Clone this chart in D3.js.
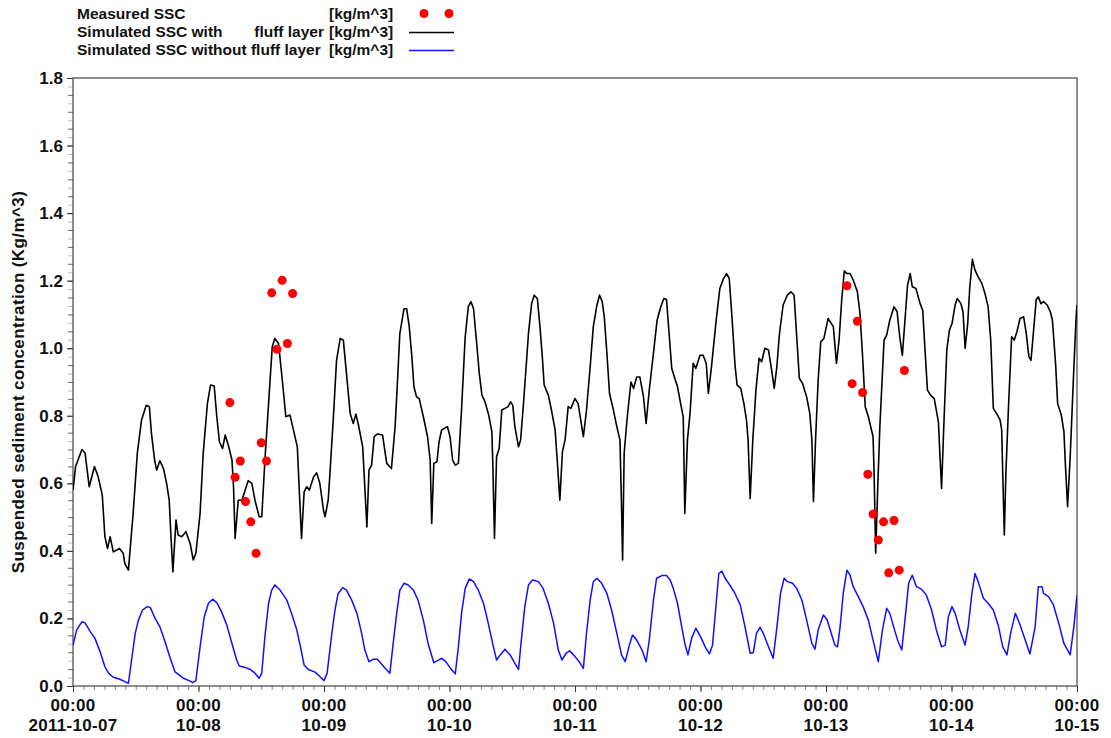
<!DOCTYPE html>
<html><head><meta charset="utf-8">
<script src="https://cdn.jsdelivr.net/npm/d3@7/dist/d3.min.js"></script>
<style>
html,body{margin:0;padding:0;background:#fff;}
svg{display:block;font-family:"Liberation Sans",Arial,sans-serif;font-weight:bold;}
</style></head>
<body><svg id="chart" width="1111" height="738"></svg>
<script>
// ---- data (hours since 2011-10-07 00:00, value in kg/m^3) ----
const startDate = new Date(2011, 9, 7, 0, 0);
const endDate = new Date(2011, 9, 15, 0, 0);
const yTicks = [0.0, 0.2, 0.4, 0.6, 0.8, 1.0, 1.2, 1.4, 1.6, 1.8];
const xTickTimes = ["00:00","00:00","00:00","00:00","00:00","00:00","00:00","00:00","00:00"];
const xTickDates = ["2011-10-07","10-08","10-09","10-10","10-11","10-12","10-13","10-14","10-15"];
const legendLabels = ["Measured SSC", "Simulated SSC with", "Simulated SSC without fluff layer"];
const legendUnit = "[kg/m^3]";
const yTitle = "Suspended sediment concentration (Kg/m^3)";

const measuredHours = [30,31,32,33,34,35,36,37,38,39,40,41,42,
  148,149,150,151,152,153,154,155,156,157,158,159];
const measuredValues = [0.839,0.618,0.666,0.546,0.486,0.393,0.72,0.666,1.164,0.997,1.201,1.014,1.162,
  1.185,0.895,1.08,0.869,0.627,0.509,0.432,0.486,0.335,0.49,0.343,0.934];

const simWithFluff = [[0,0.58],[0.5,0.65],[1.7,0.70],[2.3,0.69],[3.1,0.59],[4.1,0.65],[4.8,0.62],[5.6,0.565],[6.1,0.442],[6.6,0.407],[7.1,0.442],[7.7,0.397],[8.9,0.407],[9.6,0.393],[9.9,0.363],[10.6,0.343],[11.5,0.511],[12.3,0.689],[13.1,0.787],[14.0,0.831],[14.6,0.827],[15.0,0.748],[15.6,0.669],[16.0,0.639],[16.6,0.667],[17.3,0.644],[17.9,0.60],[18.4,0.55],[18.7,0.452],[19.1,0.338],[19.7,0.491],[20.1,0.447],[20.8,0.442],[21.6,0.457],[22.4,0.422],[23.0,0.373],[23.5,0.393],[24.3,0.511],[24.9,0.689],[25.7,0.836],[26.3,0.891],[27.0,0.888],[27.5,0.797],[28.0,0.723],[28.6,0.703],[29.1,0.743],[29.7,0.713],[30.4,0.669],[30.7,0.59],[31.0,0.437],[31.6,0.55],[32.3,0.55],[33.5,0.608],[34.2,0.60],[34.8,0.55],[35.6,0.501],[36.1,0.501],[36.7,0.669],[37.4,0.836],[38.1,1.004],[38.6,1.029],[39.3,1.014],[39.9,0.925],[40.4,0.846],[40.7,0.797],[41.5,0.802],[42.1,0.762],[42.9,0.708],[43.3,0.57],[43.7,0.437],[44.2,0.575],[44.7,0.59],[45.2,0.58],[46.0,0.619],[46.6,0.631],[47.2,0.60],[47.9,0.521],[48.2,0.501],[48.8,0.55],[49.1,0.62],[49.8,0.797],[50.4,0.964],[51.1,1.029],[51.7,1.024],[52.3,0.925],[53.0,0.807],[53.6,0.777],[54.1,0.805],[54.6,0.772],[55.4,0.708],[55.7,0.619],[56.2,0.471],[56.6,0.639],[57.1,0.654],[57.6,0.738],[58.2,0.746],[59.2,0.743],[60.0,0.659],[60.9,0.644],[61.6,0.768],[62.0,0.886],[62.5,1.043],[63.3,1.117],[63.8,1.117],[64.3,1.064],[64.8,0.975],[65.2,0.886],[65.7,0.856],[66.2,0.851],[67.0,0.797],[67.8,0.738],[68.3,0.669],[68.6,0.481],[69.0,0.659],[69.6,0.664],[70.0,0.723],[70.5,0.758],[71.6,0.768],[72.1,0.738],[72.6,0.669],[73.1,0.654],[73.7,0.659],[74.3,0.817],[75.0,1.034],[75.6,1.123],[76.1,1.138],[76.6,1.117],[77.2,1.014],[77.7,0.925],[78.2,0.861],[78.8,0.841],[79.5,0.802],[80.1,0.753],[80.3,0.649],[80.6,0.437],[81.0,0.679],[81.5,0.703],[82.0,0.817],[82.6,0.822],[83.2,0.827],[83.7,0.841],[84.1,0.831],[84.5,0.768],[85.2,0.708],[85.6,0.728],[86.2,0.846],[87.1,1.043],[87.7,1.132],[88.2,1.157],[88.8,1.147],[89.3,1.064],[89.8,0.964],[90.1,0.891],[90.9,0.861],[91.5,0.817],[92.2,0.758],[92.6,0.669],[93.1,0.55],[93.6,0.694],[94.1,0.728],[94.7,0.827],[95.2,0.822],[96.0,0.851],[96.6,0.836],[97.6,0.738],[98.2,0.817],[98.9,0.945],[99.5,1.064],[100.2,1.128],[100.7,1.157],[101.2,1.138],[101.6,1.093],[102.1,0.985],[102.6,0.866],[103.2,0.827],[104.0,0.768],[104.6,0.728],[104.9,0.531],[105.1,0.373],[105.4,0.689],[106.0,0.797],[106.7,0.90],[107.2,0.881],[107.8,0.915],[108.4,0.915],[109.1,0.856],[109.6,0.777],[110.2,0.876],[111.0,0.985],[111.7,1.083],[112.4,1.123],[113.0,1.147],[113.5,1.144],[114.0,1.043],[114.5,0.94],[114.9,0.92],[115.6,0.886],[116.2,0.836],[116.7,0.797],[117.0,0.511],[117.5,0.728],[118.0,0.807],[118.6,0.955],[119.1,0.94],[119.9,0.979],[120.5,0.979],[121.1,0.955],[121.5,0.866],[122.1,0.945],[123.0,1.083],[123.7,1.177],[124.4,1.206],[125.0,1.221],[125.5,1.206],[126.1,1.073],[126.6,0.95],[127.0,0.891],[127.7,0.881],[128.3,0.836],[128.8,0.787],[129.1,0.728],[129.5,0.555],[130.0,0.728],[130.6,0.876],[131.2,0.97],[131.7,0.96],[132.3,1.0],[133.0,0.995],[133.6,0.935],[134.1,0.881],[134.6,0.945],[135.1,1.043],[135.8,1.128],[136.6,1.157],[137.3,1.167],[137.9,1.157],[138.4,1.034],[138.9,0.911],[139.5,0.896],[140.3,0.856],[140.9,0.807],[141.3,0.728],[141.6,0.546],[142.0,0.728],[142.5,0.905],[143.0,1.019],[143.6,1.029],[144.4,1.088],[145.4,1.064],[146.0,0.955],[146.5,1.024],[147.0,1.142],[147.5,1.229],[148.0,1.221],[148.6,1.221],[149.2,1.202],[150.0,1.167],[150.5,1.103],[151.0,0.975],[151.5,0.827],[152.1,0.797],[152.7,0.758],[153.0,0.738],[153.2,0.629],[153.5,0.393],[153.9,0.59],[154.3,0.768],[155.1,1.024],[155.6,1.039],[156.2,1.083],[157.0,1.123],[157.6,1.108],[158.1,1.034],[158.6,0.979],[159.1,1.083],[159.6,1.187],[160.1,1.221],[160.5,1.182],[161.2,1.177],[162.0,1.132],[162.5,1.112],[162.9,1.004],[163.4,0.876],[164.0,0.861],[164.7,0.851],[165.5,0.782],[165.8,0.679],[166.1,0.585],[166.5,0.758],[167.1,0.995],[167.6,1.053],[168.1,1.073],[168.7,1.128],[169.1,1.147],[169.8,1.132],[170.2,1.108],[170.6,1.0],[171.1,1.073],[171.5,1.182],[172.0,1.263],[172.5,1.231],[173.1,1.211],[173.8,1.192],[174.4,1.162],[175.0,1.123],[175.5,1.024],[176.0,0.822],[176.8,0.802],[177.3,0.787],[177.6,0.758],[177.8,0.629],[178.1,0.447],[178.4,0.629],[178.9,0.827],[179.5,1.034],[180.0,1.024],[180.5,1.048],[181.1,1.088],[181.8,1.093],[182.3,1.043],[182.8,0.975],[183.2,0.964],[183.7,1.053],[184.2,1.144],[184.6,1.152],[185.1,1.132],[185.6,1.138],[186.3,1.128],[186.9,1.108],[187.3,1.083],[187.9,0.955],[188.3,0.836],[189.0,0.802],[189.5,0.753],[189.8,0.649],[190.2,0.531],[190.7,0.679],[191.3,0.905],[191.8,1.083],[192,1.128]];

const simWithoutFluff = [[0,0.121],[0.7,0.166],[1.7,0.19],[2.3,0.187],[3.3,0.161],[4.2,0.141],[5.2,0.101],[6.1,0.057],[6.8,0.038],[7.7,0.026],[9.0,0.02],[9.9,0.013],[10.6,0.008],[11.2,0.077],[11.9,0.156],[12.5,0.195],[13.3,0.225],[14.2,0.235],[14.8,0.232],[15.7,0.20],[16.6,0.176],[17.6,0.131],[18.6,0.082],[19.5,0.042],[20.3,0.033],[21.1,0.023],[22.2,0.016],[22.9,0.01],[23.5,0.016],[24.3,0.116],[25.1,0.205],[25.9,0.245],[26.7,0.257],[27.5,0.247],[28.4,0.22],[29.4,0.181],[30.4,0.126],[31.3,0.077],[31.8,0.059],[32.9,0.055],[33.9,0.049],[34.8,0.038],[35.6,0.023],[36.1,0.038],[36.7,0.146],[37.4,0.245],[38.0,0.284],[38.6,0.299],[39.6,0.284],[40.9,0.254],[41.8,0.215],[42.8,0.166],[43.5,0.116],[44.2,0.062],[45.0,0.049],[46.3,0.041],[47.2,0.028],[48.0,0.016],[48.6,0.038],[49.5,0.156],[50.1,0.225],[50.7,0.274],[51.6,0.291],[52.3,0.284],[53.3,0.254],[54.3,0.215],[55.2,0.156],[55.8,0.107],[56.6,0.072],[57.4,0.079],[58.2,0.079],[59.0,0.065],[59.9,0.049],[60.6,0.038],[61.3,0.136],[61.9,0.215],[62.5,0.284],[63.3,0.304],[64.1,0.299],[65.1,0.284],[66.0,0.254],[67.0,0.195],[67.9,0.126],[69.0,0.069],[69.7,0.075],[70.5,0.082],[71.3,0.072],[72.2,0.052],[73.1,0.036],[73.7,0.116],[74.3,0.215],[75.0,0.289],[75.8,0.317],[76.6,0.309],[77.5,0.284],[78.5,0.245],[79.4,0.186],[80.4,0.116],[81.0,0.077],[81.7,0.092],[82.6,0.109],[83.6,0.092],[84.5,0.067],[85.2,0.049],[85.8,0.146],[86.4,0.235],[87.1,0.299],[87.9,0.314],[89.0,0.309],[89.9,0.289],[90.9,0.245],[91.9,0.186],[92.8,0.107],[93.5,0.077],[94.3,0.097],[95.0,0.104],[96.0,0.087],[96.8,0.072],[97.6,0.052],[98.2,0.156],[98.9,0.254],[99.5,0.309],[100.2,0.319],[101.1,0.304],[102.1,0.274],[103.0,0.225],[104.0,0.156],[104.9,0.092],[105.6,0.072],[106.4,0.121],[107.0,0.151],[107.8,0.136],[108.8,0.107],[109.6,0.072],[110.2,0.136],[111.0,0.254],[111.6,0.319],[112.6,0.327],[113.5,0.327],[114.2,0.314],[114.8,0.289],[115.6,0.245],[116.4,0.176],[117.0,0.126],[117.6,0.092],[118.3,0.141],[119.1,0.171],[120.0,0.146],[120.9,0.116],[121.7,0.095],[122.3,0.121],[123.0,0.245],[123.5,0.333],[124.1,0.34],[124.7,0.319],[125.6,0.299],[126.6,0.274],[127.6,0.24],[128.5,0.176],[129.5,0.097],[130.1,0.099],[130.7,0.156],[131.4,0.174],[132.0,0.156],[133.0,0.116],[133.9,0.082],[134.7,0.186],[135.3,0.274],[136.0,0.319],[136.6,0.309],[137.6,0.304],[138.4,0.289],[139.4,0.254],[140.3,0.195],[141.3,0.126],[141.9,0.109],[142.5,0.166],[143.5,0.21],[144.2,0.197],[145.1,0.151],[145.7,0.121],[146.2,0.116],[146.7,0.176],[147.3,0.274],[148.0,0.343],[148.6,0.328],[149.2,0.294],[150.2,0.264],[151.1,0.235],[152.1,0.195],[153.0,0.136],[154.0,0.072],[154.8,0.166],[155.6,0.23],[156.2,0.215],[157.2,0.161],[157.8,0.131],[158.5,0.107],[159.1,0.195],[159.8,0.304],[160.5,0.328],[161.3,0.294],[162.3,0.286],[163.2,0.269],[164.2,0.225],[165.1,0.166],[166.1,0.116],[166.8,0.121],[167.4,0.205],[168.1,0.235],[168.7,0.215],[169.6,0.166],[170.6,0.121],[171.2,0.176],[171.9,0.274],[172.5,0.333],[173.1,0.309],[174.1,0.26],[175.0,0.245],[176.0,0.225],[177.0,0.176],[177.8,0.116],[178.6,0.092],[179.3,0.156],[180.2,0.215],[181.0,0.186],[182.1,0.136],[183.0,0.095],[184.0,0.176],[184.6,0.294],[185.3,0.294],[185.6,0.274],[186.6,0.264],[187.5,0.24],[188.5,0.186],[189.5,0.126],[190.7,0.092],[191.4,0.176],[192,0.269]];

// ---- chart ----
const svg = d3.select("#chart");
const L = 73, R = 1077, T = 78, B = 686;
const hourToDate = h => new Date(startDate.getTime() + h * 3600000);
const x = d3.scaleTime().domain([startDate, endDate]).range([L, R]);
const y = d3.scaleLinear().domain([0, 1.8]).range([B, T]);

// minor x ticks (every 2 hours)
svg.append("g").attr("transform", `translate(0,${B})`)
  .call(d3.axisBottom(x).ticks(d3.timeHour.every(2)).tickFormat("").tickSize(4).tickSizeOuter(0))
  .call(g => g.select(".domain").remove())
  .call(g => g.selectAll("line").attr("stroke", "#888"));
// major x ticks (days)
const dayTicks = d3.timeDay.range(startDate, d3.timeDay.offset(endDate, 1));
svg.append("g").attr("transform", `translate(0,${B})`)
  .call(d3.axisBottom(x).tickValues(dayTicks).tickFormat("").tickSize(6).tickSizeOuter(0))
  .call(g => g.select(".domain").remove())
  .call(g => g.selectAll("line").attr("stroke", "#333"));
const xl = svg.append("g");
dayTicks.forEach((d, i) => {
  const t = xl.append("text").attr("x", x(d)).attr("text-anchor", "middle")
    .attr("font-size", 17).attr("letter-spacing", 0.3).attr("fill", "#111");
  t.append("tspan").attr("x", x(d)).attr("y", 711).text(xTickTimes[i]);
  t.append("tspan").attr("x", x(d)).attr("y", 731).text(xTickDates[i]);
});

// minor y ticks every 0.025
const minorY = d3.range(0, 1.8001, 0.025);
svg.append("g").attr("transform", `translate(${L},0)`)
  .call(d3.axisLeft(y).tickValues(minorY).tickFormat("").tickSize(5).tickSizeOuter(0))
  .call(g => g.select(".domain").remove())
  .call(g => g.selectAll("line").attr("stroke", (d, i) => i % 2 ? "#bbb" : "#666"));
// major y ticks and labels
svg.append("g").attr("transform", `translate(${L},0)`)
  .call(d3.axisLeft(y).tickValues(yTicks).tickFormat(d3.format(".1f")).tickSize(6).tickSizeOuter(0).tickPadding(4))
  .call(g => g.select(".domain").remove())
  .call(g => g.selectAll("line").attr("stroke", "#333"))
  .call(g => g.selectAll("text").attr("font-size", 17).attr("font-family", "Liberation Sans, Arial, sans-serif")
     .attr("font-weight", "bold").attr("fill", "#111"));

// frame
svg.append("rect").attr("x", L).attr("y", T).attr("width", R - L).attr("height", B - T)
  .attr("fill", "none").attr("stroke", "#444").attr("stroke-width", 1.2);

// y title
svg.append("text").attr("transform", `translate(24,${(T + B) / 2}) rotate(-90)`)
  .attr("text-anchor", "middle").attr("font-size", 17).attr("letter-spacing", 0.4)
  .attr("fill", "#111").text(yTitle);

// clip
svg.append("clipPath").attr("id", "clip").append("rect")
  .attr("x", L).attr("y", T).attr("width", R - L).attr("height", B - T);

const line = d3.line().x(d => x(hourToDate(d[0]))).y(d => y(d[1]));
const plot = svg.append("g").attr("clip-path", "url(#clip)");
plot.append("path").datum(simWithoutFluff).attr("d", line)
  .attr("fill", "none").attr("stroke", "#1010ff").attr("stroke-width", 1.5).attr("stroke-linejoin", "round");
plot.append("path").datum(simWithFluff).attr("d", line)
  .attr("fill", "none").attr("stroke", "#000").attr("stroke-width", 1.6).attr("stroke-linejoin", "round");
plot.selectAll("circle").data(measuredHours.map((h, i) => [h, measuredValues[i]]))
  .join("circle").attr("cx", d => x(hourToDate(d[0]))).attr("cy", d => y(d[1]))
  .attr("r", 4.5).attr("fill", "#ff0000");

// legend
const lg = svg.append("g").attr("font-size", 15.5).attr("fill", "#111");
const rowsY = [19, 37, 55];
lg.append("text").attr("x", 77).attr("y", rowsY[0]).text(legendLabels[0]);
lg.append("text").attr("x", 77).attr("y", rowsY[1]).text(legendLabels[1]);
lg.append("text").attr("x", 324).attr("y", rowsY[1]).attr("text-anchor", "end").text("fluff layer");
lg.append("text").attr("x", 77).attr("y", rowsY[2]).text(legendLabels[2]);
rowsY.forEach(yy => lg.append("text").attr("x", 329).attr("y", yy).text(legendUnit));
[424, 449].forEach(cx => lg.append("circle").attr("cx", cx).attr("cy", 13.5).attr("r", 4.5).attr("fill", "#ff0000"));
lg.append("line").attr("x1", 409).attr("x2", 454).attr("y1", 32.5).attr("y2", 32.5).attr("stroke", "#000").attr("stroke-width", 1.5);
lg.append("line").attr("x1", 409).attr("x2", 454).attr("y1", 50.5).attr("y2", 50.5).attr("stroke", "#1010ff").attr("stroke-width", 1.5);
</script></body></html>
